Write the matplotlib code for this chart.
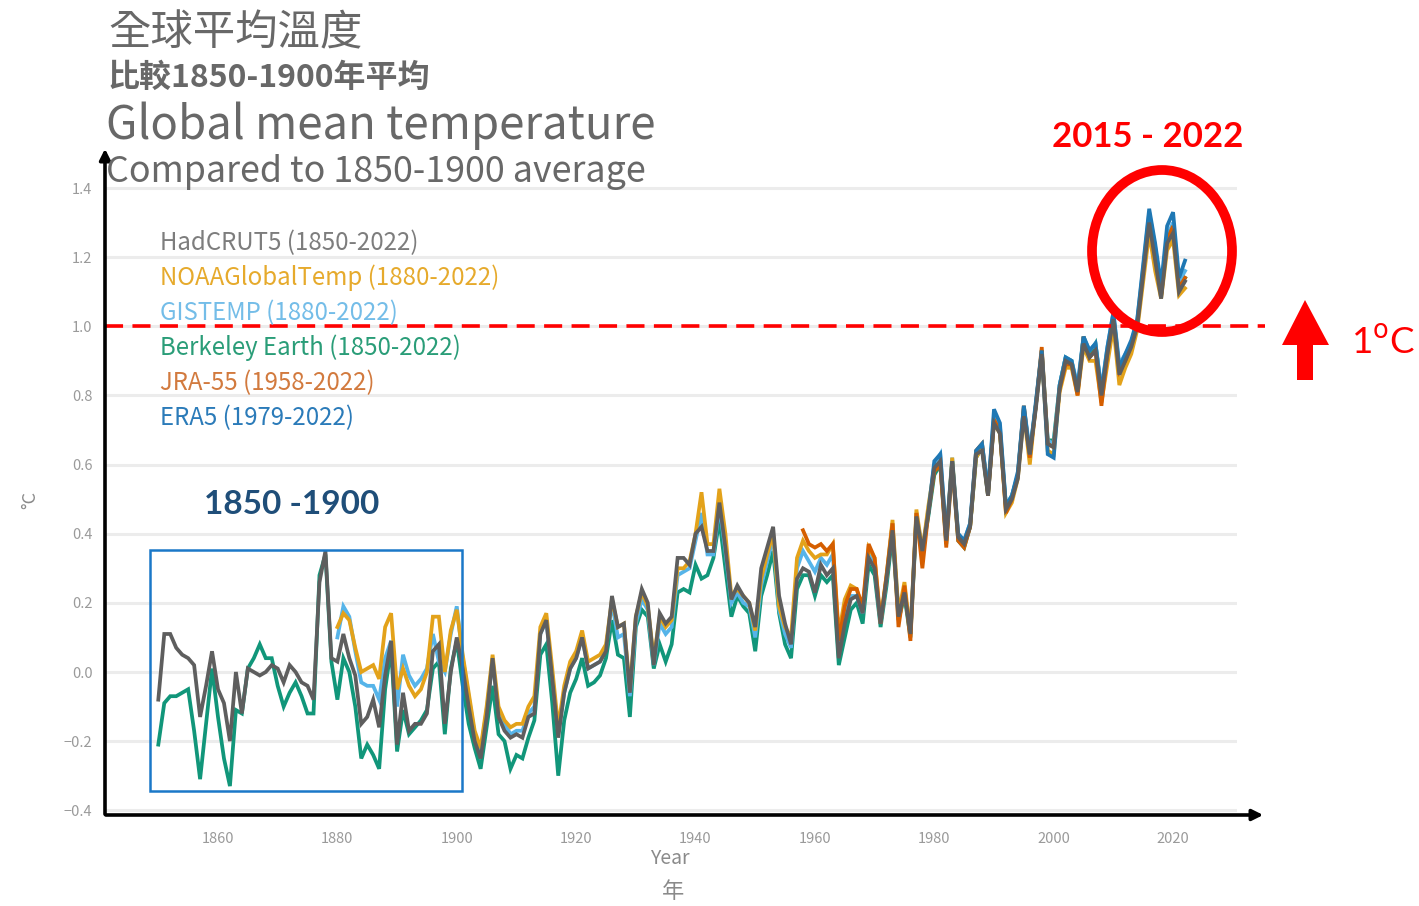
import matplotlib
matplotlib.use('Agg')
import matplotlib.pyplot as plt
import numpy as np
from matplotlib.patches import Rectangle, Ellipse, Polygon, FancyArrowPatch

plt.rcParams['font.family'] = ['Noto Sans CJK TC', 'DejaVu Sans']

# ---- data (anomaly vs 1850-1900, degC) ----
hadcrut5 = [
    -0.08, 0.11, 0.11, 0.07, 0.05, 0.04, 0.02, -0.13, -0.04, 0.06,
    -0.05, -0.09, -0.20, 0.00, -0.12, 0.01, 0.00, -0.01, 0.00, 0.02,
    0.01, -0.03, 0.02, 0.00, -0.03, -0.04, -0.08, 0.26, 0.35, 0.04,
    0.03, 0.11, 0.04, -0.01, -0.15, -0.13, -0.08, -0.16, -0.01, 0.09,
    -0.21, -0.06, -0.17, -0.15, -0.15, -0.12, 0.06, 0.08, -0.15, 0.00,
    0.10, 0.01, -0.10, -0.20, -0.25, -0.13, 0.04, -0.13, -0.17, -0.19,
    -0.18, -0.19, -0.13, -0.12, 0.11, 0.15, -0.02, -0.19, -0.06, 0.01,
    0.04, 0.10, 0.01, 0.02, 0.03, 0.06, 0.22, 0.13, 0.14, -0.06,
    0.16, 0.24, 0.20, 0.02, 0.17, 0.14, 0.16, 0.33, 0.33, 0.31,
    0.40, 0.42, 0.35, 0.35, 0.49, 0.36, 0.21, 0.25, 0.22, 0.20,
    0.13, 0.30, 0.36, 0.42, 0.22, 0.14, 0.08, 0.27, 0.30, 0.29,
    0.23, 0.31, 0.28, 0.30, 0.04, 0.14, 0.21, 0.22, 0.17, 0.33,
    0.30, 0.14, 0.27, 0.41, 0.16, 0.23, 0.11, 0.45, 0.35, 0.46,
    0.59, 0.61, 0.38, 0.61, 0.39, 0.37, 0.42, 0.63, 0.64, 0.51,
    0.72, 0.69, 0.47, 0.50, 0.56, 0.74, 0.63, 0.76, 0.92, 0.66,
    0.65, 0.82, 0.90, 0.89, 0.81, 0.95, 0.91, 0.93, 0.80, 0.92,
    1.02, 0.86, 0.90, 0.94, 1.00, 1.15, 1.30, 1.19, 1.08, 1.24,
    1.27, 1.10, 1.13,
]
berkeley = [
    -0.21, -0.09, -0.07, -0.07, -0.06, -0.05, -0.17, -0.31, -0.15, 0.01,
    -0.13, -0.25, -0.33, -0.11, -0.12, 0.01, 0.04, 0.08, 0.04, 0.04,
    -0.04, -0.10, -0.06, -0.03, -0.07, -0.12, -0.12, 0.28, 0.34, 0.03,
    -0.08, 0.04, 0.00, -0.10, -0.25, -0.21, -0.24, -0.28, -0.05, 0.07,
    -0.23, -0.11, -0.18, -0.16, -0.14, -0.11, 0.01, 0.03, -0.18, 0.01,
    0.09, -0.04, -0.15, -0.22, -0.28, -0.16, -0.04, -0.18, -0.20, -0.28,
    -0.24, -0.25, -0.19, -0.14, 0.05, 0.08, -0.09, -0.30, -0.14, -0.06,
    -0.02, 0.04, -0.04, -0.03, -0.01, 0.04, 0.15, 0.05, 0.04, -0.13,
    0.13, 0.18, 0.16, 0.01, 0.08, 0.03, 0.08, 0.23, 0.24, 0.23,
    0.31, 0.27, 0.28, 0.33, 0.44, 0.30, 0.16, 0.22, 0.19, 0.17,
    0.06, 0.22, 0.28, 0.35, 0.17, 0.08, 0.04, 0.24, 0.28, 0.28,
    0.22, 0.28, 0.26, 0.28, 0.02, 0.10, 0.18, 0.20, 0.14, 0.31,
    0.28, 0.13, 0.25, 0.40, 0.15, 0.22, 0.10, 0.44, 0.35, 0.45,
    0.57, 0.60, 0.37, 0.61, 0.38, 0.36, 0.42, 0.62, 0.65, 0.51,
    0.73, 0.69, 0.48, 0.51, 0.57, 0.76, 0.63, 0.77, 0.93, 0.67,
    0.67, 0.83, 0.91, 0.90, 0.81, 0.97, 0.92, 0.95, 0.81, 0.93,
    1.03, 0.87, 0.91, 0.95, 1.01, 1.15, 1.31, 1.20, 1.09, 1.25,
    1.28, 1.11, 1.14,
]
noaa = [
    0.13, 0.17, 0.15, 0.07, 0.00, 0.01, 0.02, -0.02, 0.13, 0.17,
    -0.05, 0.01, -0.04, -0.07, -0.05, 0.00, 0.16, 0.16, 0.00, 0.12,
    0.18, 0.05, -0.06, -0.17, -0.22, -0.10, 0.05, -0.10, -0.14, -0.16,
    -0.15, -0.15, -0.10, -0.07, 0.13, 0.17, 0.01, -0.16, -0.04, 0.03,
    0.06, 0.12, 0.03, 0.04, 0.05, 0.08, 0.21, 0.13, 0.14, -0.05,
    0.16, 0.23, 0.19, 0.04, 0.16, 0.13, 0.15, 0.30, 0.30, 0.32,
    0.40, 0.52, 0.37, 0.37, 0.53, 0.40, 0.22, 0.24, 0.22, 0.20,
    0.12, 0.27, 0.34, 0.40, 0.19, 0.13, 0.10, 0.33, 0.38, 0.35,
    0.33, 0.34, 0.34, 0.37, 0.11, 0.21, 0.25, 0.24, 0.18, 0.36,
    0.33, 0.15, 0.28, 0.44, 0.17, 0.26, 0.11, 0.47, 0.35, 0.48,
    0.59, 0.60, 0.38, 0.62, 0.39, 0.37, 0.42, 0.62, 0.65, 0.52,
    0.72, 0.69, 0.46, 0.49, 0.56, 0.75, 0.60, 0.77, 0.92, 0.64,
    0.63, 0.81, 0.88, 0.88, 0.80, 0.94, 0.90, 0.90, 0.78, 0.89,
    1.00, 0.83, 0.88, 0.92, 0.99, 1.13, 1.27, 1.16, 1.08, 1.22,
    1.25, 1.09, 1.11,
]
gistemp = [
    0.10, 0.19, 0.16, 0.06, -0.03, -0.04, -0.04, -0.08, 0.04, 0.09,
    -0.10, 0.05, -0.01, -0.04, -0.02, 0.01, 0.11, 0.03, 0.00, 0.11,
    0.19, 0.04, -0.07, -0.18, -0.23, -0.11, 0.03, -0.11, -0.15, -0.18,
    -0.17, -0.17, -0.12, -0.10, 0.11, 0.15, -0.01, -0.18, -0.06, 0.01,
    0.04, 0.10, 0.01, 0.02, 0.03, 0.07, 0.20, 0.10, 0.11, -0.07,
    0.14, 0.21, 0.18, 0.02, 0.14, 0.11, 0.13, 0.28, 0.29, 0.30,
    0.38, 0.46, 0.34, 0.34, 0.48, 0.35, 0.20, 0.23, 0.20, 0.19,
    0.10, 0.25, 0.32, 0.39, 0.18, 0.11, 0.07, 0.30, 0.35, 0.32,
    0.29, 0.33, 0.31, 0.34, 0.07, 0.17, 0.22, 0.22, 0.17, 0.34,
    0.31, 0.14, 0.27, 0.43, 0.17, 0.24, 0.11, 0.46, 0.35, 0.47,
    0.60, 0.63, 0.39, 0.62, 0.40, 0.38, 0.43, 0.64, 0.66, 0.53,
    0.74, 0.71, 0.48, 0.51, 0.57, 0.77, 0.64, 0.77, 0.93, 0.67,
    0.66, 0.83, 0.91, 0.90, 0.83, 0.97, 0.93, 0.95, 0.82, 0.94,
    1.04, 0.89, 0.92, 0.95, 1.02, 1.17, 1.33, 1.23, 1.11, 1.26,
    1.30, 1.13, 1.16,
]
jra55 = [
    0.41, 0.37,
    0.36, 0.37, 0.35, 0.37, 0.09, 0.19, 0.24, 0.24, 0.19, 0.37,
    0.33, 0.14, 0.28, 0.43, 0.13, 0.25, 0.09, 0.46, 0.30, 0.46,
    0.58, 0.60, 0.36, 0.60, 0.38, 0.36, 0.42, 0.64, 0.66, 0.51,
    0.73, 0.70, 0.46, 0.50, 0.57, 0.77, 0.62, 0.77, 0.94, 0.66,
    0.65, 0.82, 0.89, 0.89, 0.80, 0.97, 0.91, 0.93, 0.77, 0.92,
    1.03, 0.87, 0.90, 0.95, 1.01, 1.16, 1.32, 1.21, 1.09, 1.25,
    1.29, 1.11, 1.14,
]
era5 = [
    0.46,
    0.61, 0.63, 0.39, 0.61, 0.40, 0.38, 0.43, 0.64, 0.66, 0.52,
    0.76, 0.72, 0.48, 0.51, 0.58, 0.77, 0.63, 0.78, 0.93, 0.63,
    0.62, 0.83, 0.91, 0.90, 0.82, 0.97, 0.93, 0.95, 0.81, 0.94,
    1.04, 0.88, 0.92, 0.96, 1.02, 1.18, 1.34, 1.24, 1.12, 1.29,
    1.33, 1.14, 1.19,
]

# name, start year, values, line colour, label colour
series = [
    ('Berkeley Earth (1850-2022)', 1850, berkeley, '#11967a', '#2a9d78'),
    ('GISTEMP (1880-2022)', 1880, gistemp, '#56b4e9', '#74bde8'),
    ('NOAAGlobalTemp (1880-2022)', 1880, noaa, '#e3a21a', '#e6aa2c'),
    ('JRA-55 (1958-2022)', 1958, jra55, '#d55e00', '#d27a3e'),
    ('ERA5 (1979-2022)', 1979, era5, '#1f78b4', '#2b7bb9'),
    ('HadCRUT5 (1850-2022)', 1850, hadcrut5, '#5e5e5e', '#7d7d7d'),
]
legend_order = ['HadCRUT5 (1850-2022)', 'NOAAGlobalTemp (1880-2022)', 'GISTEMP (1880-2022)',
                'Berkeley Earth (1850-2022)', 'JRA-55 (1958-2022)', 'ERA5 (1979-2022)']

W, H = 1419, 906
def fx(px):
    return px / W
def fy(py):
    return 1 - py / H

fig = plt.figure(figsize=(W / 100, H / 100), dpi=100)
ax = fig.add_axes([fx(105), fy(815), (1237 - 105) / W, (815 - 150) / H])

for name, start, vals, col, _ in series:
    yrs = np.arange(start, start + len(vals))
    ax.plot(yrs, vals, color=col, lw=2.7, solid_joinstyle='miter', zorder=3)

ax.set_xlim(1841.07, 2030.71)
ax.set_ylim((672 - 815) / 345.7, (672 - 150) / 345.7)
yt = np.arange(-0.4, 1.41, 0.2)
ax.set_yticks(yt)
ax.set_yticklabels([f'{v:.1f}'.replace('-', '\u2212') if abs(v) > 1e-6 else '0.0' for v in yt])
ax.set_xticks(np.arange(1860, 2021, 20))
for v in yt:
    ax.axhline(v, color='#ececec', lw=2.2, zorder=1)
for s in ax.spines.values():
    s.set_visible(False)
ax.tick_params(length=0, colors='#9a9a9a', labelsize=10.5)
ax.tick_params(axis='y', pad=9)
ax.tick_params(axis='x', pad=12)

# 1.0 degC threshold line
ax.plot([1841.07, 2035.4], [1.0, 1.0], color='#ff0000', lw=2.6, dashes=(5, 2.6), clip_on=False, zorder=5)

# 1850-1900 box
ax.add_patch(Rectangle((1848.66, -0.345), 52.25, 0.699, fill=False, edgecolor='#1a78c8', lw=1.8, zorder=6))

# axis arrows
fig.add_artist(FancyArrowPatch((fx(105), fy(817)), (fx(105), fy(146)), transform=fig.transFigure,
                               arrowstyle='-|>', mutation_scale=16, color='black', lw=2.6))
fig.add_artist(FancyArrowPatch((fx(103), fy(815)), (fx(1266), fy(815)), transform=fig.transFigure,
                               arrowstyle='-|>', mutation_scale=16, color='black', lw=2.6))

# titles
grey = '#686868'
fig.text(fx(108), fy(33), '全球平均溫度', fontsize=30.5, color=grey, va='center', ha='left')
fig.text(fx(108), fy(78), '比較1850-1900年平均', fontsize=23, color=grey, va='center', ha='left', fontweight='bold')
fig.text(fx(106), fy(126), 'Global mean temperature', fontsize=32.8, color=grey, va='center', ha='left')
fig.text(fx(106), fy(172), 'Compared to 1850-1900 average', fontsize=25.8, color=grey, va='center', ha='left')

# legend labels
label_col = {name: lc for name, _, _, _, lc in series}
for i, name in enumerate(legend_order):
    fig.text(fx(160), fy(243 + 35 * i), name, fontsize=17.3, color=label_col[name], va='center', ha='left')

# axis labels
fig.text(fx(670), fy(858), 'Year', fontsize=14, color='#8a8a8a', ha='center', va='center')
fig.text(fx(673), fy(891), '年', fontsize=16, color='#8a8a8a', ha='center', va='center')
fig.text(fx(30), fy(500), '°C', fontsize=13, color='#8a8a8a', ha='center', va='center', rotation=90)

# annotations
fig.text(fx(292), fy(505), '1850 -1900', fontsize=24, color='#1f4e79', fontweight='bold',
         family=['Lato', 'DejaVu Sans'], ha='center', va='center')
fig.text(fx(1148), fy(137), '2015 - 2022', fontsize=25, color='#ff0000', fontweight='bold',
         family=['Lato', 'DejaVu Sans'], ha='center', va='center')
fig.text(fx(1351), fy(343), '1$^{\\mathrm{o}}$C', fontsize=26.5, color='#ff0000',
         family=['Lato', 'DejaVu Sans'], ha='left', va='center')

fig.add_artist(Ellipse((fx(1162), fy(251)), 140 / W, 162 / H, transform=fig.transFigure,
                       fill=False, edgecolor='#ff0000', lw=7))
arrow_pts = [(1297, 380), (1313, 380), (1313, 345), (1329, 345), (1305, 300), (1282, 345), (1297, 345)]
fig.add_artist(Polygon([(fx(x), fy(y)) for x, y in arrow_pts], closed=True, transform=fig.transFigure,
                       facecolor='#ff0000', edgecolor='none'))

fig.savefig('out.png', dpi=100)
